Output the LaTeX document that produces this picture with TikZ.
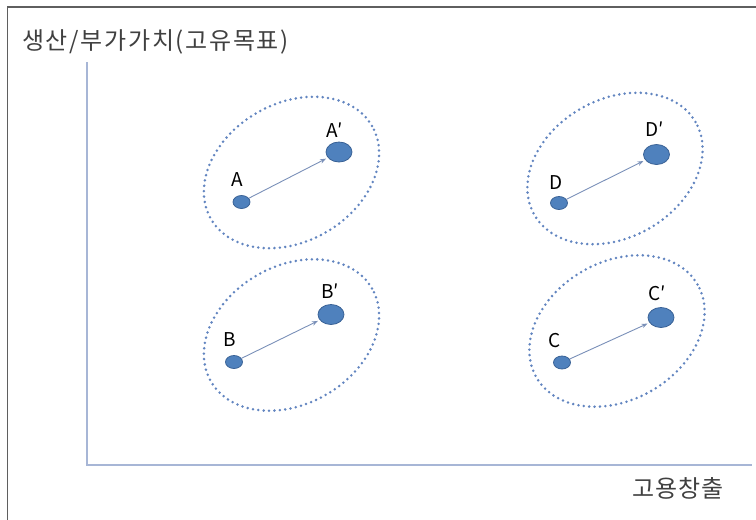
\documentclass[tikz,border=0pt]{standalone}
\usepackage{fontspec}
\setmainfont{Noto Sans CJK KR}
\usetikzlibrary{shapes.geometric,arrows.meta}
\definecolor{dotfill}{HTML}{4F81BD}
\definecolor{dotline}{HTML}{3A6296}
\definecolor{grpc}{HTML}{6285C0}
\definecolor{axisc}{HTML}{A7B6D6}
\definecolor{arrc}{HTML}{7A90B8}
\definecolor{framec}{HTML}{5F5F5F}
\definecolor{txt}{HTML}{404040}
\begin{document}
\begin{tikzpicture}[x=1pt,y=-1pt,
  smalldot/.style={ellipse,fill=dotfill,draw=dotline,line width=0.8pt,minimum width=17pt,minimum height=13pt,inner sep=0pt},
  bigdot/.style={ellipse,fill=dotfill,draw=dotline,line width=0.8pt,minimum width=26pt,minimum height=20pt,inner sep=0pt},
  grp/.style={ellipse,draw=grpc,line width=2.8pt,dash pattern=on 0pt off 5.4pt,line cap=round,minimum width=186pt,minimum height=138pt,inner sep=0pt,rotate=30},
  lbl/.style={font=\fontsize{19}{19}\selectfont,inner sep=0pt,text=black},
  arr/.style={draw=arrc,line width=0.9pt,-{Stealth[length=6pt,width=4.5pt]},shorten >=2pt}
]
\useasboundingbox (0,0) rectangle (756,520);
% frame
\coordinate (fbl) at (7.5,520);
\coordinate (ftl) at (7.5,7);
\coordinate (ftr) at (756,7);
\draw[framec,line width=1.8pt] (fbl) -- (ftl) -- (ftr);
% axes
\coordinate (ytop) at (87,62);
\coordinate (orig) at (87,465);
\coordinate (xend) at (752,465);
\draw[axisc,line width=2pt] (ytop) -- (orig) -- (xend);
\node[font=\fontsize{24}{24}\selectfont\addfontfeature{LetterSpace=7},text=txt,anchor=west,inner sep=0pt] (ylab) at (22,42) {생산/부가가치(고유목표)};
\node[font=\fontsize{24}{24}\selectfont\addfontfeature{LetterSpace=5},text=txt,inner sep=0pt] (xlab) at (678,488) {고용창출};
% groups
\node[grp] (gA) at (291.5,172.5) {};
\node[grp] (gB) at (291.5,335) {};
\node[grp] (gD) at (615,168.5) {};
\node[grp] (gC) at (617,331) {};
% dots
\node[smalldot] (a) at (241.5,202) {};
\node[bigdot] (a2) at (339,152) {};
\node[smalldot] (b) at (234,362) {};
\node[bigdot] (b2) at (331,314.5) {};
\node[smalldot] (d) at (559,203) {};
\node[bigdot] (d2) at (656.5,154.5) {};
\node[smalldot] (c) at (562,362.5) {};
\node[bigdot] (c2) at (661,317.5) {};
% labels
\node[lbl] (la) at (237,180) {A};
\node[lbl,anchor=west] (la2) at (326,130) {A′};
\node[lbl] (lb) at (229.5,340) {B};
\node[lbl,anchor=west] (lb2) at (321,291) {B′};
\node[lbl] (ld) at (556,183) {D};
\node[lbl,anchor=west] (ld2) at (645,129) {D′};
\node[lbl] (lc) at (555,341) {C};
\node[lbl,anchor=west] (lc2) at (648,293) {C′};
% arrows
\draw[arr] (a) -- (a2);
\draw[arr] (b) -- (b2);
\draw[arr] (d) -- (d2);
\draw[arr] (c) -- (c2);
\end{tikzpicture}
\end{document}
